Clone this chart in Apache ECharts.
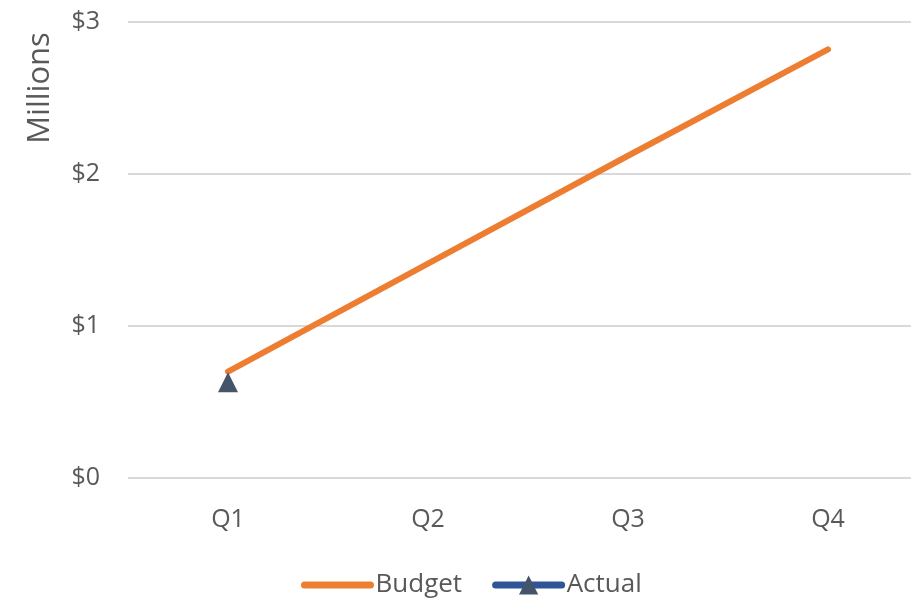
<!DOCTYPE html>
<html>
<head>
<meta charset="utf-8">
<script src="https://cdn.jsdelivr.net/npm/echarts@6/dist/echarts.min.js"></script>
<style>html,body{margin:0;padding:0;background:#fff;overflow:hidden}#c{width:928px;height:603px}</style>
</head>
<body>
<div id="c"></div>
<script>
const categories = ['Q1', 'Q2', 'Q3', 'Q4'];
const budget = [0.70, 1.41, 2.12, 2.82];
const actual = [0.63, null, null, null];
const yTicks = { min: 0, max: 3, interval: 1 };

const FONT = '"Open Sans", sans-serif';
const TXT = '#595959';
const chart = echarts.init(document.getElementById('c'), null, { renderer: 'canvas' });
chart.setOption({
  animation: false,
  backgroundColor: '#ffffff',
  grid: { left: 128, right: 0, top: 22, bottom: 125, containLabel: false, outerBoundsMode: 'none' },
  graphic: [{
    type: 'text', x: 40, y: 88, rotation: Math.PI / 2,
    style: { text: 'Millions', fill: TXT, font: '31px ' + FONT, align: 'center', verticalAlign: 'middle' }
  }],
  legend: {
    top: 567, left: 296, itemWidth: 66, itemHeight: 24, itemGap: 30,
    textStyle: { color: TXT, fontSize: 26, fontFamily: FONT },
    lineStyle: { width: 7, cap: 'round' },
    data: [
      { name: 'Budget', itemStyle: { opacity: 0 } },
      { name: 'Actual' }
    ]
  },
  xAxis: {
    type: 'category', data: categories, boundaryGap: true,
    axisLine: { show: false }, axisTick: { show: false },
    axisLabel: { color: TXT, fontSize: 25, fontFamily: FONT, margin: 29 }
  },
  yAxis: {
    type: 'value', min: yTicks.min, max: yTicks.max, interval: yTicks.interval,
    axisLine: { show: false }, axisTick: { show: false },
    axisLabel: { color: TXT, fontSize: 25, fontFamily: FONT, margin: 28, formatter: v => '$' + v },
    splitLine: { lineStyle: { color: '#D9D9D9', width: 2 } }
  },
  series: [
    {
      name: 'Budget', type: 'line', data: budget, showSymbol: false, symbol: 'none',
      lineStyle: { color: '#ED7D31', width: 6, cap: 'round' },
      itemStyle: { color: '#ED7D31' }
    },
    {
      name: 'Actual', type: 'line', data: actual, symbol: 'triangle', symbolSize: [20, 20], showSymbol: true,
      lineStyle: { color: '#2F5597', width: 6, cap: 'round' },
      itemStyle: { color: '#44546A' }
    }
  ]
});
</script>
</body>
</html>
